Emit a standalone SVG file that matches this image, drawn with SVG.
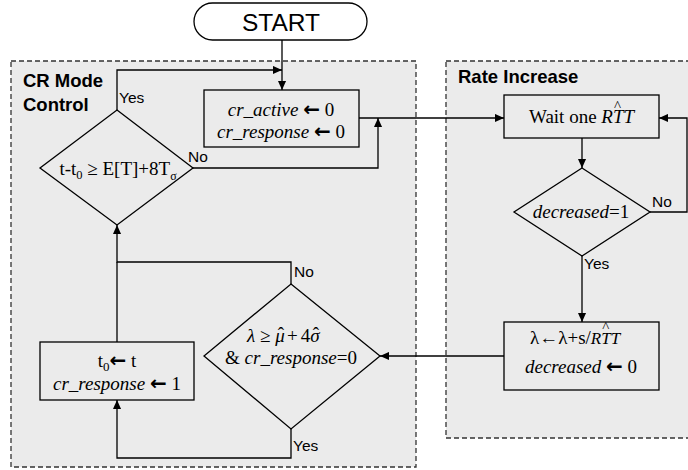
<svg xmlns="http://www.w3.org/2000/svg" width="688" height="470" viewBox="0 0 688 470">
  <defs>
    <marker id="arrow" viewBox="0 0 10 10" refX="10" refY="5" markerWidth="9" markerHeight="9" markerUnits="userSpaceOnUse" orient="auto">
      <path d="M0,0.5 L10,5 L0,9.5 Z" fill="#000"/>
    </marker>
    <style>
      .panel { fill: #ebebeb; stroke: #333; stroke-width: 1.3; stroke-dasharray: 5 3; }
      .shape { fill: #ebebeb; stroke: #000; stroke-width: 1.3; }
      .title { font-family: "Liberation Sans", Arial, sans-serif; font-weight: bold; font-size: 18.5px; fill: #000; }
      .lbl { font-family: "Liberation Sans", Arial, sans-serif; font-size: 15.5px; fill: #000; }
      .txt { font-family: "Liberation Serif", "Times New Roman", serif; font-size: 19px; fill: #000; text-anchor: middle; }
      .left { text-anchor: start; }
      .it { font-style: italic; }
      .barr { font-family: "DejaVu Sans", sans-serif; font-weight: bold; font-size: 20px; }
      .hat { font-size: 15px; font-style: normal; }
      .conn { fill: none; stroke: #000; stroke-width: 1.3; }
    </style>
  </defs>

  <rect width="688" height="470" fill="#fff"/>

  <!-- panels -->
  <g id="panel-cr">
    <rect class="panel" x="11" y="61" width="405" height="406"/>
    <text class="title" x="23" y="87">CR Mode</text>
    <text class="title" x="23" y="111">Control</text>
  </g>
  <g id="panel-rate">
    <rect class="panel" x="446" y="61" width="246" height="377"/>
    <text class="title" x="458" y="83">Rate Increase</text>
  </g>

  <!-- connectors -->
  <g id="connectors">
    <path class="conn" d="M282,40 V90" marker-end="url(#arrow)"/>
    <path class="conn" d="M117,110 V70 H282" marker-end="url(#arrow)"/>
    <path class="conn" d="M193,168 H378 V118" marker-end="url(#arrow)"/>
    <path class="conn" d="M359,118 H504" marker-end="url(#arrow)"/>
    <path class="conn" d="M582,138 V168" marker-end="url(#arrow)"/>
    <path class="conn" d="M650,212 H687 V118 H659" marker-end="url(#arrow)"/>
    <path class="conn" d="M582,256 V322" marker-end="url(#arrow)"/>
    <path class="conn" d="M504,356 H380" marker-end="url(#arrow)"/>
    <path class="conn" d="M291,284 V262 H117 V225" marker-end="url(#arrow)"/>
    <path class="conn" d="M117,342 V262"/>
    <path class="conn" d="M291,429 V458 H117 V400" marker-end="url(#arrow)"/>
    <text class="lbl" x="119" y="103">Yes</text>
    <text class="lbl" x="188" y="162">No</text>
    <text class="lbl" x="652" y="207">No</text>
    <text class="lbl" x="584" y="269">Yes</text>
    <text class="lbl" x="294" y="277">No</text>
    <text class="lbl" x="293" y="451">Yes</text>
  </g>

  <!-- START terminator -->
  <g id="start">
    <rect x="194" y="3" width="173" height="37" rx="18.5" ry="18.5" fill="#fff" stroke="#000" stroke-width="1.3"/>
    <text x="281" y="31" font-family="Liberation Sans, Arial, sans-serif" font-size="24.5" text-anchor="middle">START</text>
  </g>

  <!-- reset box -->
  <g id="reset">
    <rect class="shape" x="204" y="90" width="155" height="57"/>
    <text class="txt" x="281" y="116"><tspan class="it">cr_active</tspan> <tspan class="barr">←</tspan> 0</text>
    <text class="txt" x="281" y="138"><tspan class="it">cr_response</tspan> <tspan class="barr">←</tspan> 0</text>
  </g>

  <!-- timeout check -->
  <g id="timeout">
    <polygon class="shape" points="117,110 193,168 117,225 40,168"/>
    <text class="txt" x="118" y="175" font-size="17.5">t-t<tspan font-size="12.5" dy="4">0</tspan><tspan dy="-4"> ≥ E[T]+8T</tspan><tspan font-size="12" dy="5">σ</tspan></text>
  </g>

  <!-- wait one RTT -->
  <g id="wait">
    <rect class="shape" x="504" y="95" width="155" height="43"/>
    <text class="txt left" x="529" y="123">Wait one <tspan class="it">RTT</tspan><tspan class="hat" dx="-20" dy="-12">^</tspan></text>
  </g>

  <!-- decreased check -->
  <g id="decreased">
    <polygon class="shape" points="582,168 650,212 582,256 514,212"/>
    <text class="txt" x="581" y="218"><tspan class="it">decreased</tspan>=1</text>
  </g>

  <!-- rate increase box -->
  <g id="increase">
    <rect class="shape" x="504" y="322" width="155" height="68"/>
    <text class="txt left" x="530" y="344">λ←λ+s/<tspan class="it" font-size="17">RTT</tspan><tspan class="hat" dx="-18" dy="-12">^</tspan></text>
    <text class="txt" x="581" y="373"><tspan class="it">decreased</tspan> <tspan class="barr">←</tspan> 0</text>
  </g>

  <!-- congestion response check -->
  <g id="response-check">
    <polygon class="shape" points="291,284 380,356 291,429 204,356"/>
    <text class="txt left" x="247" y="342"><tspan class="it">λ</tspan> ≥ <tspan class="it">μ</tspan><tspan dx="-7" dy="-2">ˆ</tspan><tspan dx="3" dy="2">+</tspan><tspan dx="3">4</tspan><tspan class="it">σ</tspan><tspan dx="-7" dy="-2">ˆ</tspan></text>
    <text class="txt" x="291" y="364">&amp; <tspan class="it">cr_response</tspan>=0</text>
  </g>

  <!-- response box -->
  <g id="respond">
    <rect class="shape" x="40" y="342" width="154" height="58"/>
    <text class="txt" x="117" y="367">t<tspan font-size="13" dy="4">0</tspan><tspan class="barr" dy="-4">←</tspan> t</text>
    <text class="txt" x="117" y="390"><tspan class="it">cr_response</tspan> <tspan class="barr">←</tspan> 1</text>
  </g>
</svg>
